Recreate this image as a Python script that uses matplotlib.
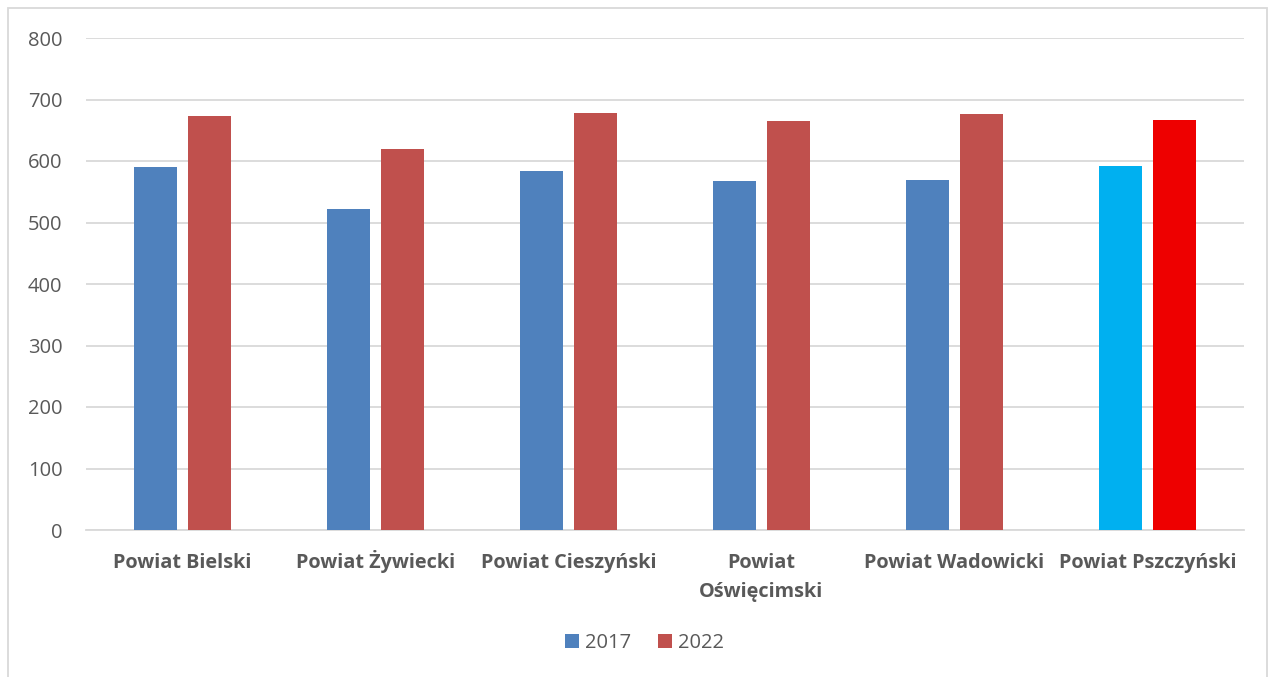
import matplotlib
matplotlib.use("Agg")
import matplotlib.pyplot as plt
import matplotlib.transforms as mtransforms
import numpy as np
from matplotlib.patches import Rectangle, Patch

categories = ["Powiat Bielski", "Powiat Żywiecki", "Powiat Cieszyński",
              "Powiat\nOświęcimski", "Powiat Wadowicki", "Powiat Pszczyński"]
values_2017 = [591, 522, 584, 568, 569, 592]
values_2022 = [673, 620, 678, 665, 677, 667]
series_labels = ["2017", "2022"]
y_ticks = [0, 100, 200, 300, 400, 500, 600, 700, 800]

blue = "#4F81BD"
red = "#C0504D"
highlight_blue = "#00B0F0"
highlight_red = "#EE0000"
text_grey = "#595959"

plt.rcParams["font.family"] = ["Open Sans", "DejaVu Sans"]

fig = plt.figure(figsize=(12.71, 6.77), dpi=100)
W, H = 1271, 677
ax = fig.add_axes([86 / W, 1 - 530 / H, (1244 - 86) / W, (530 - 38) / H])

x = np.arange(len(categories))
bw = 0.223
off = 0.142
colors17 = [blue] * (len(categories) - 1) + [highlight_blue]
colors22 = [red] * (len(categories) - 1) + [highlight_red]
ax.bar(x - off, values_2017, bw, color=colors17, zorder=3)
ax.bar(x + off, values_2022, bw, color=colors22, zorder=3)

ax.set_xlim(-0.5, len(categories) - 0.5)
ax.set_ylim(0, 800)
ax.set_yticks(y_ticks)
ax.set_yticklabels([str(v) for v in y_ticks], fontsize=14.5, color=text_grey)
ax.yaxis.grid(True, color="#D9D9D9", linewidth=1.3, zorder=0)
ax.set_xticks(x)
ax.set_xticklabels([])
ax.tick_params(axis="both", length=0)
ax.tick_params(axis="y", pad=17)
for s in ["top", "right", "left"]:
    ax.spines[s].set_visible(False)
ax.spines["bottom"].set_color("#D9D9D9")
ax.spines["bottom"].set_linewidth(1.3)

# category names, each line placed on a common baseline below the axis
line_gap = 29
for xi, name in zip(x, categories):
    for k, part in enumerate(name.split("\n")):
        tr = mtransforms.offset_copy(ax.get_xaxis_transform(), fig=fig,
                                     y=-(38 + k * line_gap), units="dots")
        ax.text(xi, 0, part, transform=tr, ha="center", va="baseline",
                fontsize=14.3, fontweight="bold", color=text_grey)

handles = [Patch(facecolor=blue), Patch(facecolor=red)]
fig.legend(handles, series_labels, loc="center", bbox_to_anchor=(0.507, 1 - 643 / H),
           ncol=2, frameon=False, fontsize=14.5, labelcolor=text_grey,
           handlelength=0.7, handleheight=0.7, handletextpad=0.3, columnspacing=1.3)

fig.patches.append(Rectangle((8 / W, -0.05), (1267 - 8) / W, 1.05 - 8 / H,
                             transform=fig.transFigure, fill=False,
                             edgecolor="#D9D9D9", linewidth=1.3))

fig.savefig("out.png", dpi=100, facecolor="white")
